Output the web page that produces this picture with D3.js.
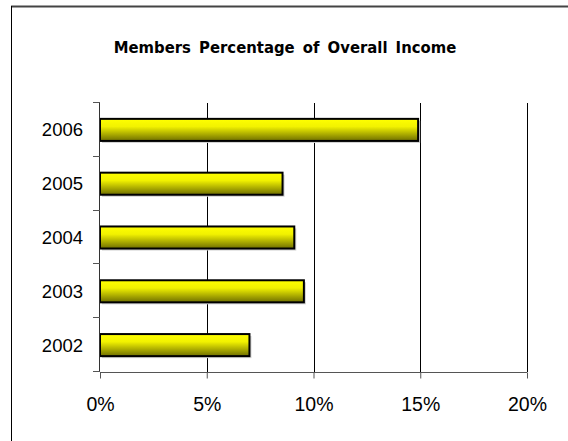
<!DOCTYPE html>
<html>
<head>
<meta charset="utf-8">
<script src="https://cdn.jsdelivr.net/npm/d3@7"></script>
<style>
	html, body { margin: 0; padding: 0; background: #fff; }
	svg { display: block; }
	.title { font-family: "Comic Sans MS", "DejaVu Sans Condensed", "DejaVu Sans", sans-serif; font-weight: bold; }
	.tick text, .cat text { font-family: "Liberation Sans", Arial, sans-serif; fill: #000; }
</style>
</head>
<body>
<div id="chart"></div>
<script>
var years = ['2002', '2003', '2004', '2005', '2006'];
var shares = [7.0, 9.55, 9.1, 8.55, 14.9];
var xTicks = [0, 5, 10, 15, 20];
var titleText = 'Members Percentage of Overall Income';

(function() {
	var width = 568, height = 441;
	var plot = { left: 100, right: 527, top: 103, bottom: 372 };

	var svg = d3.select('#chart').append('svg')
		.attr('width', width)
		.attr('height', height);

	var defs = svg.append('defs');
	var grad = defs.append('linearGradient')
		.attr('id', 'barFill')
		.attr('x1', 0).attr('y1', 0)
		.attr('x2', 0).attr('y2', 1);
	grad.append('stop').attr('offset', '0%').attr('stop-color', '#ffff00');
	grad.append('stop').attr('offset', '35%').attr('stop-color', '#f2f200');
	grad.append('stop').attr('offset', '100%').attr('stop-color', '#6e6e00');

	// frame (only top and left edges are in view)
	svg.append('line')
		.attr('x1', 11).attr('y1', 6.5).attr('x2', width).attr('y2', 6.5)
		.attr('stroke', '#444').attr('stroke-width', 2);
	svg.append('line')
		.attr('x1', 11.5).attr('y1', 6).attr('x2', 11.5).attr('y2', height)
		.attr('stroke', '#000').attr('stroke-width', 1);

	svg.append('text')
		.attr('class', 'title')
		.attr('x', 285)
		.attr('y', 53)
		.attr('text-anchor', 'middle')
		.attr('font-size', 16.5)
		.attr('word-spacing', 3)
		.text(titleText);

	var x = d3.scaleLinear()
		.domain([0, 20])
		.range([plot.left, plot.right]);
	var y = d3.scaleBand()
		.domain(years)
		.range([plot.bottom, plot.top]);
	var barH = y.bandwidth() * 0.41;

	// gridlines
	svg.append('g').selectAll('line')
		.data(xTicks.slice(1))
		.enter()
		.append('line')
		.attr('x1', function(d) { return Math.round(x(d)) + 0.5; })
		.attr('x2', function(d) { return Math.round(x(d)) + 0.5; })
		.attr('y1', plot.top)
		.attr('y2', plot.bottom)
		.attr('stroke', '#000');

	// bars with soft shadow
	var data = years.map(function(d, i) { return { year: d, value: shares[i] }; });
	var bars = svg.append('g');
	bars.selectAll('rect.shadow')
		.data(data)
		.enter()
		.append('rect')
		.attr('class', 'shadow')
		.attr('x', x(0) + 2)
		.attr('y', function(d) { return y(d.year) + (y.bandwidth() - barH) / 2 + 2; })
		.attr('width', function(d) { return x(d.value) - x(0); })
		.attr('height', barH)
		.attr('fill', '#d0d0d0');
	bars.selectAll('rect.bar')
		.data(data)
		.enter()
		.append('rect')
		.attr('class', 'bar')
		.attr('x', x(0))
		.attr('y', function(d) { return y(d.year) + (y.bandwidth() - barH) / 2; })
		.attr('width', function(d) { return x(d.value) - x(0); })
		.attr('height', barH)
		.attr('fill', 'url(#barFill)')
		.attr('stroke', '#000')
		.attr('stroke-width', 2);

	// x axis
	var xAxis = svg.append('g')
		.attr('transform', 'translate(0,' + (plot.bottom + 0.5) + ')')
		.call(d3.axisBottom(x)
			.tickValues(xTicks)
			.tickSize(6)
			.tickPadding(19)
			.tickFormat(function(d) { return d + '%'; }));
	xAxis.select('.domain').attr('stroke', '#555').attr('d', 'M' + plot.left + ',0H' + plot.right);
	xAxis.selectAll('.tick line').attr('stroke', '#555');
	xAxis.selectAll('.tick text').attr('font-size', 19.5);

	// y axis: ticks sit on the band edges
	var edges = years.map(function(d) { return y(d); }).concat([plot.bottom]);
	var yAxis = svg.append('g');
	yAxis.append('line')
		.attr('x1', plot.left - 0.5).attr('x2', plot.left - 0.5)
		.attr('y1', plot.top - 1).attr('y2', plot.bottom)
		.attr('stroke', '#333');
	yAxis.selectAll('line.tk')
		.data(edges)
		.enter()
		.append('line')
		.attr('class', 'tk')
		.attr('x1', plot.left - 7).attr('x2', plot.left)
		.attr('y1', function(d) { return Math.round(d) - 0.5; })
		.attr('y2', function(d) { return Math.round(d) - 0.5; })
		.attr('stroke', '#555');
	yAxis.append('g').attr('class', 'cat')
		.selectAll('text')
		.data(years)
		.enter()
		.append('text')
		.attr('x', 83)
		.attr('y', function(d) { return y(d) + y.bandwidth() / 2 + 6.5; })
		.attr('text-anchor', 'end')
		.attr('font-size', 18.5)
		.text(function(d) { return d; });
})();
</script>
</body>
</html>
